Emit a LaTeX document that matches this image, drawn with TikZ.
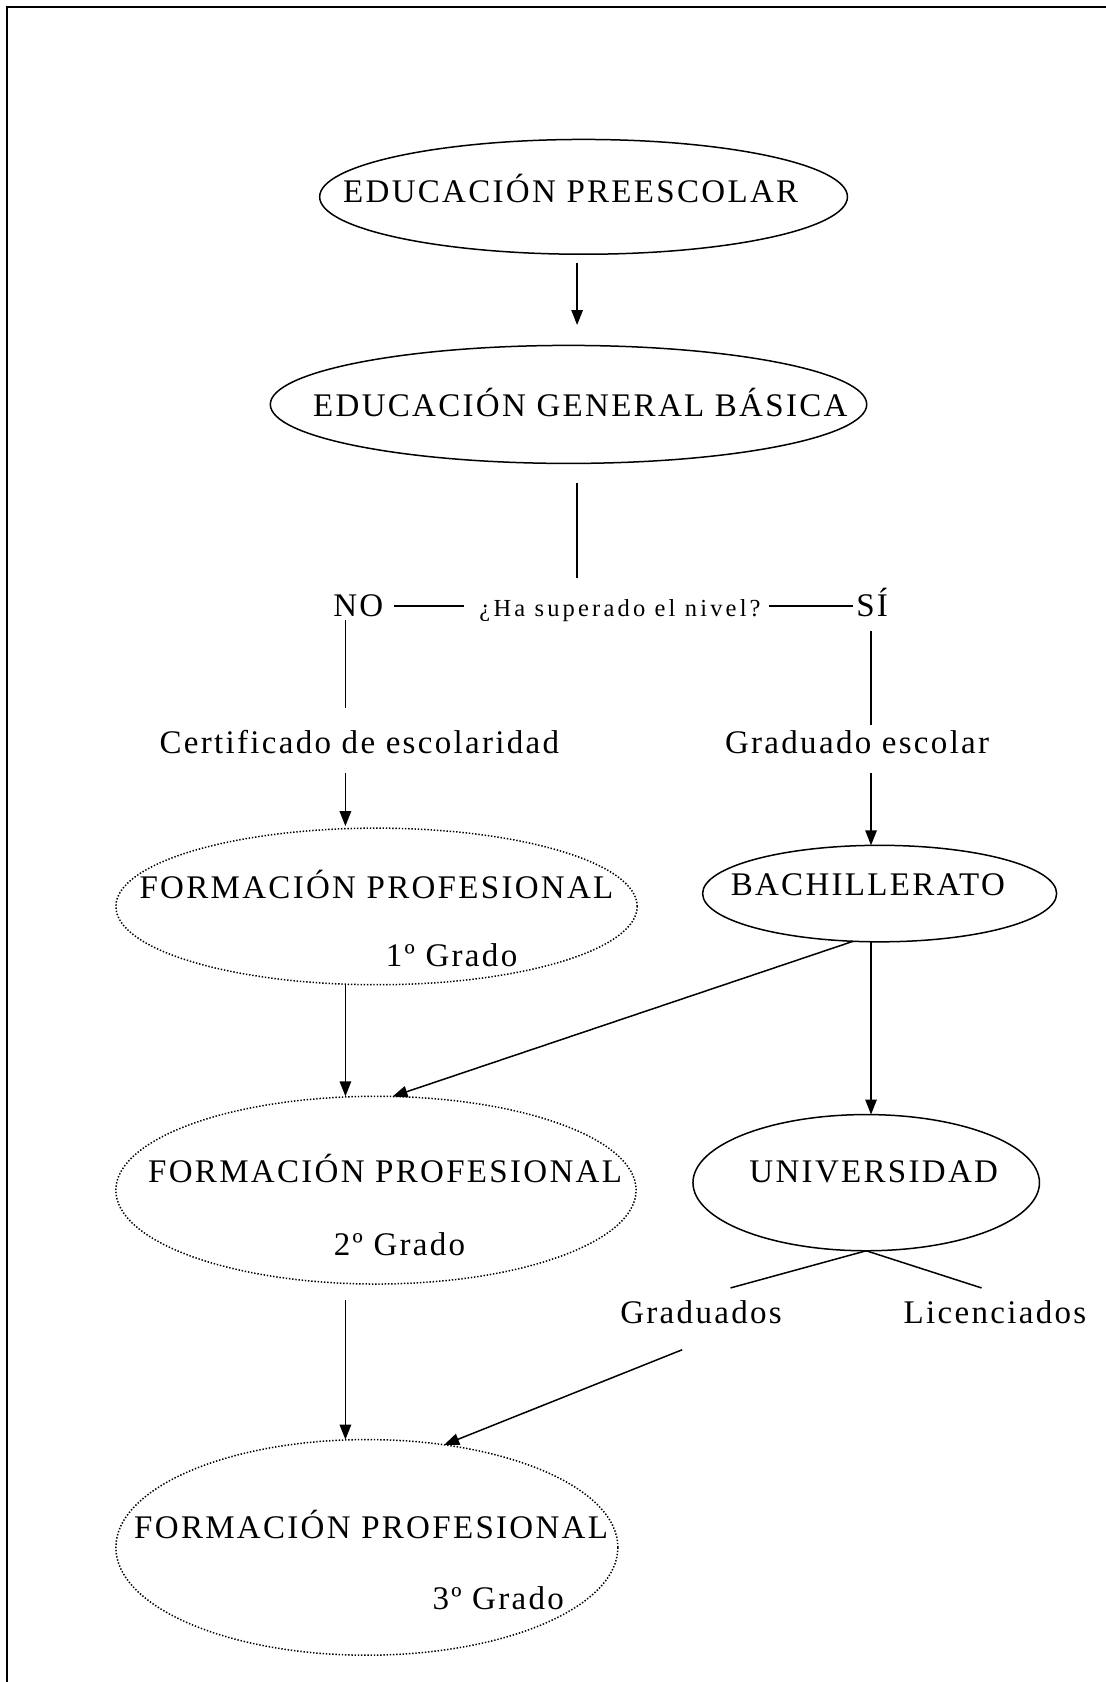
\documentclass[tikz,border=0pt]{standalone}
\usepackage{fontspec}
\setmainfont{Liberation Serif}[LetterSpace=7]
\newfontfamily\askfont{Liberation Serif}[LetterSpace=13]
\usetikzlibrary{shapes.geometric,arrows.meta}

\begin{document}
\begin{tikzpicture}[x=1.0727pt,y=-1.0727pt,
  lbl/.style={inner sep=0pt, outer sep=0pt, anchor=base, font=\fontsize{33}{39}\selectfont},
  ask/.style={inner sep=0pt, outer sep=0pt, anchor=base, font=\askfont\fontsize{24.5}{29}\selectfont},
  oval/.style={draw, ellipse, line width=1.5pt, inner sep=0pt, outer sep=0pt},
  dotoval/.style={oval, line width=1.5pt, dash pattern=on 1.4pt off 1.8pt},
  link/.style={line width=1.5pt},
  arr/.style={link, -{Triangle[length=15pt,width=11.5pt]}}]

\path[use as bounding box] (0,0) rectangle (1031,1568);

% page frame
\draw[line width=2.4pt] (6.5,1575) -- (6.5,6.5) -- (1040,6.5);

% ovals
\node[oval, minimum width=527.8pt, minimum height=114.8pt] (ep)   at (544,183.5) {};
\node[oval, minimum width=596.4pt, minimum height=118.0pt] (egb)  at (530,377) {};
\node[dotoval, minimum width=521.3pt, minimum height=156.6pt] (fp1) at (351,845) {};
\node[oval, minimum width=354.0pt, minimum height=96.5pt] (bach) at (820,833) {};
\node[dotoval, minimum width=520.3pt, minimum height=187.7pt] (fp2) at (350.5,1109.5) {};
\node[oval, minimum width=346.5pt, minimum height=136.2pt] (univ) at (807.5,1102.5) {};
\node[dotoval, minimum width=502.0pt, minimum height=215.6pt] (fp3) at (342,1442.5) {};

% texts
\node[lbl] (eptxt)  at (532,189)  {EDUCACIÓN PREESCOLAR};
\node[lbl] (egbtxt) at (541,388)  {EDUCACIÓN GENERAL BÁSICA};
\node[lbl] (no)     at (334,575)  {NO};
\node[ask] (ask)    at (578,575)  {¿Ha superado el nivel?};
\node[lbl] (si)     at (813,575)  {SÍ};
\node[lbl] (cert)   at (335,702)  {Certificado de escolaridad};
\node[lbl] (grad)   at (799,702)  {Graduado escolar};
\node[lbl] (fp1a)   at (351,838)  {FORMACIÓN PROFESIONAL};
\node[lbl] (fp1b)   at (421,901)  {1º Grado};
\node[lbl] (bachtxt) at (809,835) {BACHILLERATO};
\node[lbl] (fp2a)   at (359,1102) {FORMACIÓN PROFESIONAL};
\node[lbl] (fp2b)   at (372.5,1170) {2º Grado};
\node[lbl] (univtxt) at (814.5,1102) {UNIVERSIDAD};
\node[lbl] (grads)  at (653.5,1234) {Graduados};
\node[lbl] (lic)    at (927.5,1234) {Licenciados};
\node[lbl] (fp3a)   at (346,1434) {FORMACIÓN PROFESIONAL};
\node[lbl] (fp3b)   at (464.5,1500) {3º Grado};

% connector columns
\coordinate (axis) at (538,0);
\coordinate (colL) at (322,0);
\coordinate (colR) at (812,0);

% connectors
\draw[arr, shorten <=8.6pt, shorten >=20.4pt] (ep.south -| axis) -- (egb.north -| axis);
\draw[link, shorten <=19.3pt, shorten >=21.5pt] (egb.south -| axis) -- (ask.north -| axis);
\draw[link, shorten <=10.7pt, shorten >=15pt] (no.east) -- (no.east -| ask.west);
\draw[link, shorten <=8pt, shorten >=3pt] (ask.east |- no.east) -- (no.east -| si.west);
\draw[link, shorten <=3.2pt, shorten >=21.5pt] (no.south -| colL) -- (cert.north -| colL);
\draw[link, shorten <=14pt, shorten >=5.4pt] (si.south -| colR) -- (grad.north -| colR);
\draw[arr, shorten <=19.3pt, shorten >=2pt] (cert.south -| colL) -- (fp1.north -| colL);
\draw[arr, shorten <=19.3pt] (grad.south -| colR) -- (bach.north -| colR);
\draw[arr] (bach.south -| colR) -- (univ.north -| colR);
\draw[arr] (bach.-119) -- (fp2.80);
\draw[arr] (fp1.south -| colL) -- (fp2.north -| colL);
\draw[arr, shorten <=16pt] (fp2.south -| colL) -- (fp3.north -| colL);
\draw[link] (univ.south) -- ([xshift=29.5pt,yshift=12.9pt]grads.north);
\draw[link] (univ.south) -- ([xshift=-13.4pt,yshift=12.9pt]lic.north);
\draw[arr] ([xshift=-18.8pt,yshift=-25.7pt]grads.south) -- (fp3.53);
\end{tikzpicture}
\end{document}
